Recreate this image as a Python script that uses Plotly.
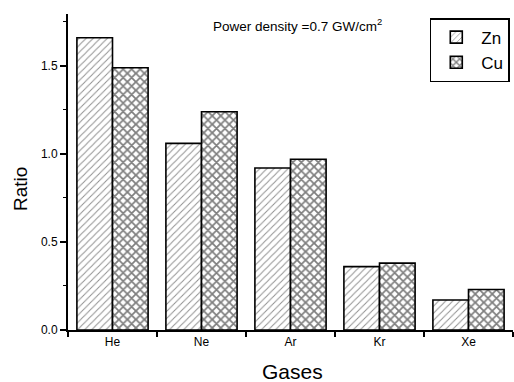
import plotly.graph_objects as go

gases = ["He", "Ne", "Ar", "Kr", "Xe"]
zn_ratio = [1.66, 1.06, 0.92, 0.36, 0.17]
cu_ratio = [1.49, 1.24, 0.97, 0.38, 0.23]
y_ticks = [0.0, 0.5, 1.0, 1.5]

FONT = "Liberation Sans, Arial, sans-serif"

fig = go.Figure()
fig.add_trace(go.Bar(
    name="Zn", x=gases, y=zn_ratio,
    marker=dict(color="white", line=dict(color="black", width=1.6),
                pattern=dict(shape="/", size=5, solidity=0.2,
                             fgcolor="#222222", bgcolor="white")),
))
fig.add_trace(go.Bar(
    name="Cu", x=gases, y=cu_ratio,
    marker=dict(color="white", line=dict(color="black", width=1.6),
                pattern=dict(shape="x", size=6, solidity=0.5,
                             fgcolor="black", bgcolor="white")),
))

fig.update_layout(
    width=514, height=382,
    margin=dict(l=68, r=1, t=14, b=52),
    paper_bgcolor="white", plot_bgcolor="white",
    barmode="group", bargap=0.2, bargroupgap=0.0,
    font=dict(family=FONT, color="black"),
    showlegend=True,
    legend=dict(x=0.813, y=0.987, xanchor="left", yanchor="top",
                bordercolor="black", borderwidth=1.5, bgcolor="white",
                font=dict(size=17, family=FONT),
                tracegroupgap=2, itemwidth=40),
    xaxis=dict(
        range=[-0.5, 4.5], showline=True, linecolor="black", linewidth=2,
        ticks="outside", tickson="boundaries", ticklen=5, tickwidth=1.5,
        tickcolor="black", tickfont=dict(size=12), showgrid=False,
        zeroline=False,
    ),
    yaxis=dict(
        range=[0, 1.795], showline=True, linecolor="black", linewidth=2,
        tickvals=y_ticks, tickformat=".1f", ticks="outside", ticklen=6,
        tickwidth=1.5, tickcolor="black", tickfont=dict(size=12),
        showgrid=False, zeroline=False,
        minor=dict(dtick=0.25, ticks="outside", ticklen=3, tickwidth=1.2,
                   tickcolor="black", showgrid=False),
    ),
    annotations=[
        dict(text="Power density =0.7 GW/cm<sup>2</sup>", xref="paper", yref="paper",
             x=(297 - 68) / 445, y=(330 - 25) / 316, showarrow=False,
             font=dict(size=13.5, family=FONT), xanchor="center", yanchor="middle"),
        dict(text="Ratio", xref="paper", yref="paper",
             x=(20 - 68) / 445, y=(330 - 189) / 316, showarrow=False,
             textangle=-90, font=dict(size=19, family=FONT),
             xanchor="center", yanchor="middle"),
        dict(text="Gases", xref="paper", yref="paper",
             x=(292 - 68) / 445, y=(330 - 371) / 316, showarrow=False,
             font=dict(size=21, family=FONT), xanchor="center", yanchor="middle"),
    ],
)

fig.write_html("out.html")
